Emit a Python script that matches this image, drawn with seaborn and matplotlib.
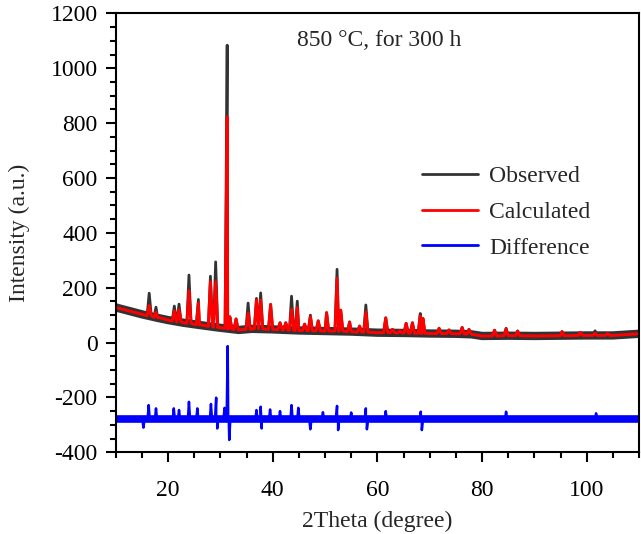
import numpy as np
import pandas as pd
import matplotlib
matplotlib.use("Agg")
import matplotlib.pyplot as plt
from matplotlib.ticker import MultipleLocator
import seaborn as sns

# background of the pattern
bg_x = [10, 12, 15, 18, 20, 23, 26, 29.5, 33.5, 36, 40, 45, 50, 55, 60, 65, 70, 75, 78, 80, 85, 90, 95, 100, 105, 110]
bg_y = [128, 118, 103, 90, 82, 72, 64, 55, 46, 50, 48, 44, 42, 40, 36, 35, 33, 32, 30, 24, 25, 24, 25, 26, 26, 32]

# reflections: position, observed top, calculated top, foot level
peak_x = [16.4, 17.7, 21.2, 22.1, 24.0, 25.8, 28.1, 29.1, 31.3, 31.8, 33.0, 35.3, 36.9, 37.7,
          39.6, 41.4, 42.5, 43.6, 44.7, 46.1, 47.2, 48.7, 50.3, 52.3, 53.0, 54.7, 56.6, 57.8,
          61.6, 62.9, 64.3, 65.5, 66.7, 68.2, 68.7, 71.8, 73.7, 76.2, 77.5, 82.4, 84.6, 86.8,
          95.3, 98.8, 101.6, 104.0]
obs_top = [180, 129, 133, 140, 246, 157, 242, 294, 1084, 94, 86, 144, 161, 181,
           139, 72, 72, 169, 151, 67, 100, 79, 109, 267, 118, 75, 60, 137,
           90, 48, 43, 70, 72, 106, 88, 52, 46, 55, 48, 45, 52, 42,
           40, 37, 43, 33]
calc_top = [135, 110, 115, 120, 189, 144, 222, 222, 823, 94, 86, 108, 155, 155,
            139, 72, 72, 121, 128, 67, 94, 79, 109, 234, 118, 75, 60, 112,
            90, 48, 43, 70, 72, 97, 88, 52, 46, 55, 48, 45, 50, 42,
            40, 37, 34, 33]
peak_base = [98, 92, 78, 75, 70, 65, 59, 56, 52, 50, 47, 48, 50, 50,
             48, 47, 46, 45, 44, 44, 43, 43, 42, 42, 42, 40, 38, 38,
             36, 36, 35, 35, 34, 34, 34, 33, 33, 32, 31, 24, 25, 25,
             25, 26, 26, 26]

# difference curve: level and spikes
diff_level = -280
diff_up_x = [16.3, 17.7, 21.1, 22.1, 24.0, 25.6, 28.2, 29.2, 30.8, 31.4, 36.9, 37.7, 39.5,
             41.4, 43.6, 44.9, 49.6, 52.3, 55.0, 57.8, 61.6, 68.3, 84.6, 101.8]
diff_up_y = [-228, -240, -240, -246, -216, -240, -224, -201, -238, -13, -246, -234, -244,
             -250, -228, -238, -254, -231, -255, -240, -250, -252, -252, -258]
diff_dn_x = [15.3, 29.4, 31.7, 37.9, 47.2, 52.5, 58.0, 68.5]
diff_dn_y = [-310, -313, -355, -313, -316, -319, -316, -319]

legend_labels = ["Observed", "Calculated", "Difference"]
note = "850 \u00b0C, for 300 h"


def profile(tops, bases, hw=0.4):
    xs = list(bg_x)
    ys = list(bg_y)
    for p, t, b in zip(peak_x, tops, bases):
        xs += [p - hw, p, p + hw]
        ys += [b, t, b]
    df = pd.DataFrame({"x": xs, "y": ys}).sort_values("x", kind="stable")
    return df


def diff_profile(hw=0.2):
    xs = [bg_x[0], bg_x[-1]]
    ys = [diff_level, diff_level]
    for p, t in zip(diff_up_x + diff_dn_x, diff_up_y + diff_dn_y):
        xs += [p - hw, p, p + hw]
        ys += [diff_level, t, diff_level]
    return pd.DataFrame({"x": xs, "y": ys}).sort_values("x", kind="stable")


sns.set_style("ticks")
plt.rcParams["font.family"] = ["Liberation Serif", "DejaVu Serif"]
plt.rcParams["font.size"] = 17
plt.rcParams["axes.unicode_minus"] = False

fig = plt.figure(figsize=(6.41, 5.34), dpi=100)
ax = fig.add_axes([0.1805, 0.153, 0.8164, 0.822])

obs = profile(obs_top, peak_base)
calc = profile(calc_top, peak_base)
diff = diff_profile()
band = pd.DataFrame({"x": bg_x, "y": bg_y})

c_obs, c_calc, c_diff = "#333333", "#ff0000", "#0000ff"

# noisy band under observed data
sns.lineplot(data=band, x="x", y="y", color=c_obs, lw=6, sort=False, estimator=None,
             ax=ax, label="_nolegend_", solid_joinstyle="round")
sns.lineplot(data=obs, x="x", y="y", color=c_obs, lw=2, sort=False, estimator=None,
             ax=ax, label=legend_labels[0])
sns.lineplot(data=calc, x="x", y="y", color=c_calc, lw=2.1, sort=False, estimator=None,
             ax=ax, label=legend_labels[1])
ax.plot([bg_x[0], bg_x[-1]], [diff_level, diff_level], color=c_diff, lw=5.5,
        solid_capstyle="butt", label="_nolegend_")
sns.lineplot(data=diff, x="x", y="y", color=c_diff, lw=1.8, sort=False, estimator=None,
             ax=ax, label=legend_labels[2])

ax.set_xlim(10, 110)
ax.set_ylim(-400, 1200)
ax.xaxis.set_major_locator(MultipleLocator(20))
ax.xaxis.set_minor_locator(MultipleLocator(5))
ax.yaxis.set_major_locator(MultipleLocator(200))
ax.yaxis.set_minor_locator(MultipleLocator(50))
ax.tick_params(which="major", direction="out", length=7, width=1.5, colors="black")
ax.tick_params(which="minor", direction="out", length=4, width=1.5, colors="black")
ax.tick_params(axis="y", which="both", pad=6)
ax.tick_params(axis="x", which="both", pad=13)
for s in ax.spines.values():
    s.set_linewidth(1.5)
    s.set_color("black")

ax.set_xlabel("2Theta (degree)", labelpad=7)
ax.set_ylabel("Intensity (a.u.)", labelpad=15)

ax.text(60.3, 1100, note, ha="center", va="center", fontsize=17)

leg = ax.legend(loc="upper left", bbox_to_anchor=(0.562, 0.68), frameon=False,
                handlelength=2.4, handletextpad=0.45, labelspacing=0.6, borderpad=0,
                fontsize=17)
for h in leg.get_lines():
    h.set_linewidth(2)

fig.savefig("out.png", dpi=100)
